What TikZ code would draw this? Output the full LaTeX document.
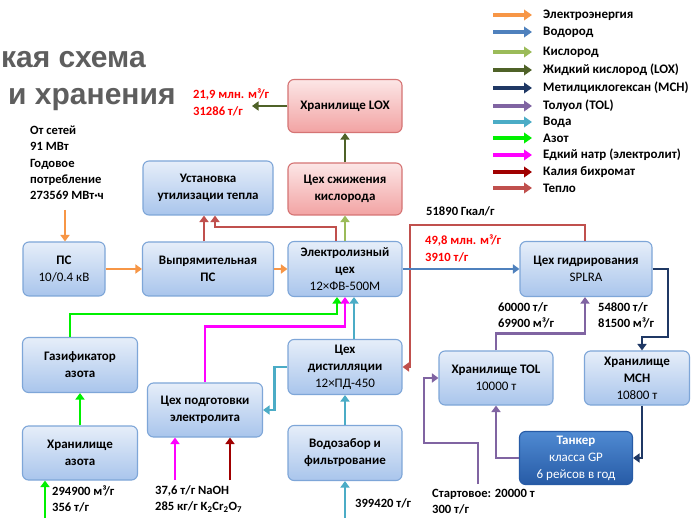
\documentclass[tikz,border=0pt]{standalone}
\usepackage{fontspec}
\setmainfont{Carlito}
\newfontfamily\titlefont{Liberation Sans}
\usetikzlibrary{arrows.meta,calc}
\definecolor{cEl}{HTML}{F79646}
\definecolor{cH}{HTML}{4F81BD}
\definecolor{cO}{HTML}{9BBB59}
\definecolor{cLox}{HTML}{4F6228}
\definecolor{cMch}{HTML}{1F3864}
\definecolor{cTol}{HTML}{8064A2}
\definecolor{cW}{HTML}{4BACC6}
\definecolor{cN}{HTML}{00F000}
\definecolor{cNa}{HTML}{FF00FF}
\definecolor{cK}{HTML}{A00000}
\definecolor{cHeat}{HTML}{C0504D}
\definecolor{bTop}{HTML}{E6EEF9}
\definecolor{bBot}{HTML}{A9C5EC}
\definecolor{bBrd}{HTML}{7EA6D8}
\definecolor{pTop}{HTML}{FCE6E6}
\definecolor{pBot}{HTML}{F2A3A3}
\definecolor{pBrd}{HTML}{D57474}
\definecolor{tTop}{HTML}{4F8AD2}
\definecolor{tBot}{HTML}{275BA6}
\definecolor{ttl}{HTML}{5E5E5E}
\tikzset{
  box/.style={rounded corners=6pt, line width=1.1pt, align=center,
    font=\fontsize{13}{17}\selectfont, inner sep=1pt},
  bluebox/.style={box, draw=bBrd, top color=bTop, bottom color=bBot},
  pinkbox/.style={box, draw=pBrd, top color=pTop, bottom color=pBot},
  tankbox/.style={box, draw=tBot, top color=tTop, bottom color=tBot, text=white},
  flow/.style={line width=2.8pt, line join=miter, -{Triangle[length=6.5pt,width=9pt]}},
  legarrow/.style={line width=3.2pt, -{Triangle[length=8pt,width=10.5pt]}},
  lab/.style={font=\fontsize{12.6}{16.2}\selectfont\bfseries, align=left, inner sep=0pt},
  redlab/.style={lab, text=red},
  legtext/.style={font=\fontsize{13}{14}\selectfont\bfseries, anchor=west, inner sep=0pt},
  titletext/.style={font=\titlefont\fontsize{30}{32}\selectfont\bfseries, text=ttl, anchor=west, inner sep=0pt}
}
\begin{document}
\begin{tikzpicture}[x=1pt,y=-1pt]
\clip (0,0) rectangle (696,518);
\fill[white] (0,0) rectangle (696,518);

% title fragments
\node[titletext] (t1) at (1,60) {кая схема};
\node[titletext] (t2) at (8,100) {и хранения};

% nodes
\node[pinkbox, minimum width=114pt, minimum height=53pt] (lox) at (345,106) {\bfseries Хранилище LOX};
\node[pinkbox, minimum width=114pt, minimum height=52pt] (liq) at (345,189) {\bfseries Цех сжижения\\\bfseries кислорода};
\node[bluebox, minimum width=130pt, minimum height=54pt] (util) at (208,188) {\bfseries Установка\\\bfseries утилизации тепла};
\node[bluebox, minimum width=82pt, minimum height=54pt] (ps) at (64,269) {\bfseries ПС\\10/0.4 кВ};
\node[bluebox, minimum width=131pt, minimum height=54pt] (rect) at (208,269) {\bfseries Выпрямительная\\\bfseries ПС};
\node[bluebox, minimum width=114pt, minimum height=55pt] (elec) at (345,269) {\bfseries Электролизный\\\bfseries цех\\12×ФВ-500М};
\node[bluebox, minimum width=132pt, minimum height=55pt] (hyd) at (586,269) {\bfseries Цех гидрирования\\SPLRA};
\node[bluebox, minimum width=115pt, minimum height=55pt] (gas) at (80,365) {\bfseries Газификатор\\\bfseries азота};
\node[bluebox, minimum width=114pt, minimum height=55pt] (dist) at (345,367) {\bfseries Цех\\\bfseries дистилляции\\12×ПД-450};
\node[bluebox, minimum width=115pt, minimum height=54pt] (prep) at (205,410) {\bfseries Цех подготовки\\\bfseries электролита};
\node[bluebox, minimum width=114pt, minimum height=54pt] (tol) at (496,378) {\bfseries Хранилище TOL\\10000 т};
\node[bluebox, minimum width=105pt, minimum height=54pt] (mch) at (637,378) {\bfseries Хранилище\\\bfseries MCH\\10800 т};
\node[bluebox, minimum width=115pt, minimum height=54pt] (nst) at (80,453) {\bfseries Хранилище\\\bfseries азота};
\node[bluebox, minimum width=114pt, minimum height=55pt] (wat) at (345,453) {\bfseries Водозабор и\\\bfseries фильтрование};
\node[tankbox, minimum width=113pt, minimum height=53pt] (tank) at (576,458) {\bfseries Танкер\\класса GP\\6 рейсов в год};

% labels
\node[lab, anchor=north west] (grid) at (30,126) {От сетей\\91 МВт\\Годовое\\потребление\\273569 МВт·ч};
\node[redlab, anchor=north west] (loxlab) at (193,89) {21,9 млн. м³/г\\31286 т/г};
\node[lab, anchor=west] (heatlab) at (426,211) {51890 Гкал/г};
\node[redlab, anchor=north west] (h2lab) at (425,235) {49,8 млн. м³/г\\3910 т/г};
\node[lab, anchor=north west] (tollab) at (498,302) {60000 т/г\\69900 м³/г};
\node[lab, anchor=north west] (mchlab) at (598,302) {54800 т/г\\81500 м³/г};
\node[lab, anchor=north west] (startlab) at (432,489) {Стартовое: 20000 т\\300 т/г};
\node[lab, anchor=west] (watlab) at (355,503) {399420 т/г};
\node[lab, anchor=north west] (n2lab) at (52,485) {294900 м³/г\\356 т/г};
\node[lab, anchor=north west] (chemlab) at (155,485) {37,6 т/г NaOH\\285 кг/г K\textsubscript{2}Cr\textsubscript{2}O\textsubscript{7}};

% free ends
\coordinate (gridend) at (65,210);
\coordinate (loxout) at (252,106);
\coordinate (startc) at (478,484);
\coordinate (n2in) at (45,518);
\coordinate (naohin) at (175,480);
\coordinate (k2in) at (230,480);
\coordinate (watin) at (345,518);

% electricity
\draw[flow,cEl] (gridend) -- (gridend |- ps.north);
\draw[flow,cEl] (ps.east) -- (rect.west);
\draw[flow,cEl] (rect.east) -- (elec.west);

% heat
\draw[flow,cHeat] ([xshift=-4pt]rect.north) -- ([xshift=-4pt]util.south);
\draw[flow,cHeat] ([xshift=-9pt]elec.north) -- ++(0,-14) -| ([xshift=7pt]util.south);
\draw[flow,cHeat] ([xshift=-1pt]hyd.north) |- (410,225) |- (dist.east);

% hydrogen
\draw[flow,cH] (elec.east) -- (hyd.west);

% oxygen and LOX
\draw[flow,cO] (elec.north) -- (liq.south);
\draw[flow,cLox] (liq.north) -- (lox.south);
\draw[flow,cLox] (lox.west) -- (loxout);

% MCH
\draw[flow,cMch] (hyd.east) -| (668,337) -| ([xshift=5pt]mch.north);
\draw[flow,cMch] ([xshift=5pt]mch.south) |- (tank.east);

% TOL
\draw[flow,cTol] (tank.west) -| (tol.south);
\draw[flow,cTol] (tol.north) -- ++(0,-17) -| ([xshift=-1pt]hyd.south);
\draw[flow,cTol] (startc) |- (424,443) |- (tol.west);

% nitrogen
\draw[flow,cN] (n2in) -- (n2in |- nst.south);
\draw[flow,cN] (nst.north) -- (gas.south);
\draw[flow,cN] ([xshift=-10pt]gas.north) -- ++(0,-23) -| ([xshift=-8pt]elec.south);

% electrolyte
\draw[flow,cNa] (prep.north) -- ++(0,-56) -| (elec.south);
\draw[flow,cNa] (naohin) -- (naohin |- prep.south);
\draw[flow,cK] (k2in) -- (k2in |- prep.south);

% water
\draw[flow,cW] (watin) -- (wat.south);
\draw[flow,cW] (wat.north) -- (dist.south);
\draw[flow,cW] ([xshift=9pt]dist.north) -- ([xshift=9pt]elec.south);
\draw[flow,cW] (dist.west) -- ++(-13,0) |- (prep.east);

% legend
\node[legtext] (lg1) at (543,15) {Электроэнергия};
\node[legtext] (lg2) at (543,32) {Водород};
\node[legtext] (lg3) at (543,52) {Кислород};
\node[legtext] (lg4) at (543,70) {Жидкий кислород (LOX)};
\node[legtext] (lg5) at (543,88) {Метилциклогексан (MCH)};
\node[legtext] (lg6) at (543,106) {Толуол (TOL)};
\node[legtext] (lg7) at (543,122) {Вода};
\node[legtext] (lg8) at (543,138) {Азот};
\node[legtext] (lg9) at (543,155) {Едкий натр (электролит)};
\node[legtext] (lg10) at (543,172) {Калия бихромат};
\node[legtext] (lg11) at (543,188) {Тепло};
\foreach \n/\c in {1/cEl,2/cH,3/cO,4/cLox,5/cMch,6/cTol,7/cW,8/cN,9/cNa,10/cK,11/cHeat}
  \draw[legarrow,\c] ([xshift=-50pt]lg\n.west) -- ([xshift=-11pt]lg\n.west);
\end{tikzpicture}
\end{document}
